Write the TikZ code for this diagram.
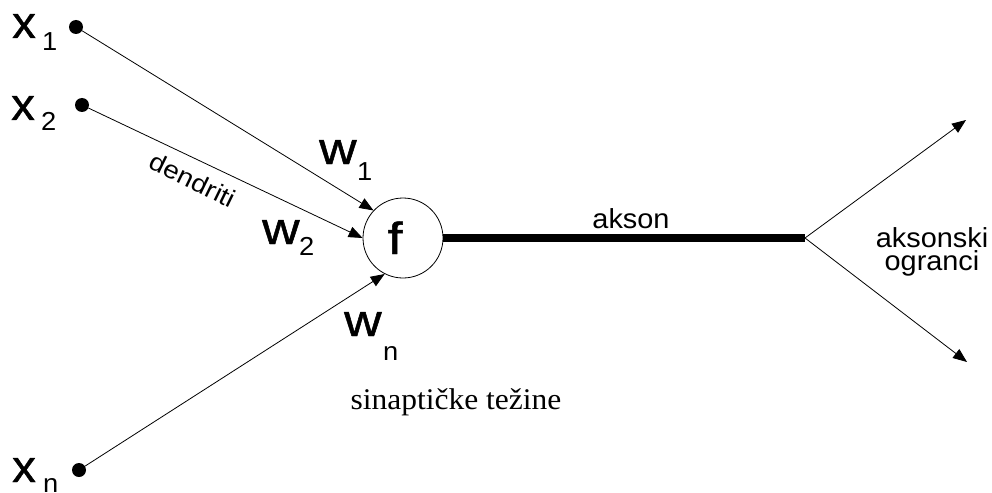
\documentclass[tikz,border=0pt]{standalone}
\usepackage{fontspec}
\usepackage{graphicx}
\usetikzlibrary{arrows.meta}
\newfontfamily\lsans{Liberation Sans}
\newfontfamily\lsansheavy[FakeBold=1]{Liberation Sans}
\newfontfamily\lserif{Liberation Serif}
\newcommand\stx[2][1.05]{\scalebox{#1}[1]{#2}}
\begin{document}
\begin{tikzpicture}[x=1pt,y=-1pt,
  lbl/.style={inner sep=0pt, anchor=base west},
  bigtxt/.style={lbl, font=\lsansheavy\fontsize{45}{45}\selectfont},
  subtxt/.style={lbl, font=\lsans\fontsize{26}{26}\selectfont},
  midtxt/.style={inner sep=0pt, font=\lsans\fontsize{27.5}{27.5}\selectfont},
  dotnode/.style={circle, fill=black, inner sep=0pt, minimum size=14pt},
  conn/.style={line width=0.8pt, -{Triangle[length=14pt,width=11pt]}},
]
\useasboundingbox (0,0) rectangle (992,492);
% input dots
\node[dotnode] (d1) at (76,27) {};
\node[dotnode] (d2) at (82,105) {};
\node[dotnode] (dn) at (79,470) {};
% neuron body
\node[circle, draw, line width=0.8pt, minimum size=80pt, inner sep=0pt] (f) at (403,238) {};
\node[bigtxt, anchor=base] (ft) at (395,254) {\stx[1.2]{f}};
% dendrites
\draw[conn] (d1) -- (f.137);
\draw[conn] (d2) -- (f.180);
\draw[conn] (dn) -- (f.243);
% axon
\coordinate (br) at (805,238);
\draw[line width=8pt] (f.east) -- (br);
\coordinate (t1) at (966,120);
\coordinate (t2) at (967,362);
\draw[conn] (br) -- (t1);
\draw[conn] (br) -- (t2);
% input labels
\node[bigtxt] (x1) at (12,38) {\stx{x}};
\node[subtxt] (x1s) at (42,51) {\stx{1}};
\node[bigtxt] (x2) at (11,120) {\stx{x}};
\node[subtxt] (x2s) at (41,131) {\stx{2}};
\node[bigtxt] (xn) at (12,482) {\stx{x}};
\node[subtxt] (xns) at (43,492) {\stx{n}};
% weights
\node[bigtxt] (w1) at (319,164) {\stx[1.15]{w}};
\node[subtxt] (w1s) at (357,180) {\stx{1}};
\node[bigtxt] (w2) at (262,244) {\stx[1.15]{w}};
\node[subtxt] (w2s) at (299,255) {\stx{2}};
\node[bigtxt] (wn) at (344,336) {\stx[1.15]{w}};
\node[subtxt] (wns) at (383,360) {\stx{n}};
% other labels
\node[midtxt, font=\lsans\fontsize{25}{25}\selectfont, rotate=-26] (dend) at (193,180) {\stx[1.12]{dendriti}};
\node[midtxt, anchor=base] (akson) at (631,228) {\stx{akson}};
\node[midtxt, anchor=base] (ak1) at (932,247) {\stx{aksonski}};
\node[midtxt, anchor=base] (ak2) at (932,270) {\stx{ogranci}};
\node[inner sep=0pt, anchor=base, font=\lserif\fontsize{30}{30}\selectfont] (sin) at (456,409) {\stx{sinaptičke težine}};
\end{tikzpicture}
\end{document}
